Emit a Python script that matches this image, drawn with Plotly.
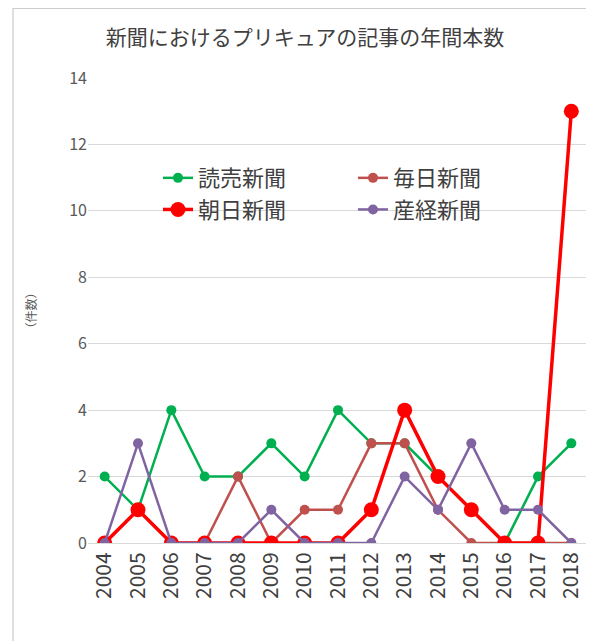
import plotly.graph_objects as go

years = [str(y) for y in range(2004, 2019)]
yomiuri = [2, 1, 4, 2, 2, 3, 2, 4, 3, 3, 2, 1, 0, 2, 3]
mainichi = [0, 1, 0, 0, 2, 0, 1, 1, 3, 3, 1, 0, 0, 0, 0]
asahi = [0, 1, 0, 0, 0, 0, 0, 0, 1, 4, 2, 1, 0, 0, 13]
sankei = [0, 3, 0, 0, 0, 1, 0, 0, 0, 2, 1, 3, 1, 1, 0]

font = "Noto Sans CJK JP"
fig = go.Figure()
fig.add_trace(go.Scatter(x=years, y=yomiuri, name="読売新聞", mode="lines+markers", legend="legend",
                         line=dict(color="#00B050", width=2.5), marker=dict(size=10)))
fig.add_trace(go.Scatter(x=years, y=mainichi, name="毎日新聞", mode="lines+markers", legend="legend2",
                         line=dict(color="#C0504D", width=2.5), marker=dict(size=10)))
fig.add_trace(go.Scatter(x=years, y=asahi, name="朝日新聞", mode="lines+markers", legend="legend",
                         line=dict(color="#FF0000", width=3.5), marker=dict(size=15)))
fig.add_trace(go.Scatter(x=years, y=sankei, name="産経新聞", mode="lines+markers", legend="legend2",
                         line=dict(color="#8064A2", width=2.5), marker=dict(size=10)))

leg = dict(y=0.83, xanchor="left", yanchor="top", tracegroupgap=0,
           font=dict(size=22, color="#404040"), bgcolor="rgba(0,0,0,0)")
fig.update_layout(
    width=594, height=641, paper_bgcolor="white", plot_bgcolor="white",
    margin=dict(l=80, r=14, t=70, b=106),
    font=dict(family=font, color="#595959"),
    title=dict(text="新聞におけるプリキュアの記事の年間本数", x=0.5, xanchor="center",
               y=0.965, font=dict(size=21, color="#404040")),
    legend=dict(x=0.14, **leg),
    legend2=dict(x=0.53, **leg),
    xaxis=dict(type="category", range=[-0.5, 14.5], tickangle=-90,
               tickfont=dict(size=21, color="#404040"), showgrid=False,
               showline=True, linecolor="#D9D9D9", ticks=""),
    yaxis=dict(range=[0, 14], dtick=2, tickfont=dict(size=16, color="#595959"),
               gridcolor="#D9D9D9", zeroline=False,
               title=dict(text="（件数）", font=dict(size=12), standoff=30)),
    shapes=[dict(type="rect", xref="paper", yref="paper", x0=-0.15, x1=1.02,
                 y0=-0.225, y1=1.15, line=dict(color="#BFBFBF", width=1))],
)
fig.write_html("out.html")
